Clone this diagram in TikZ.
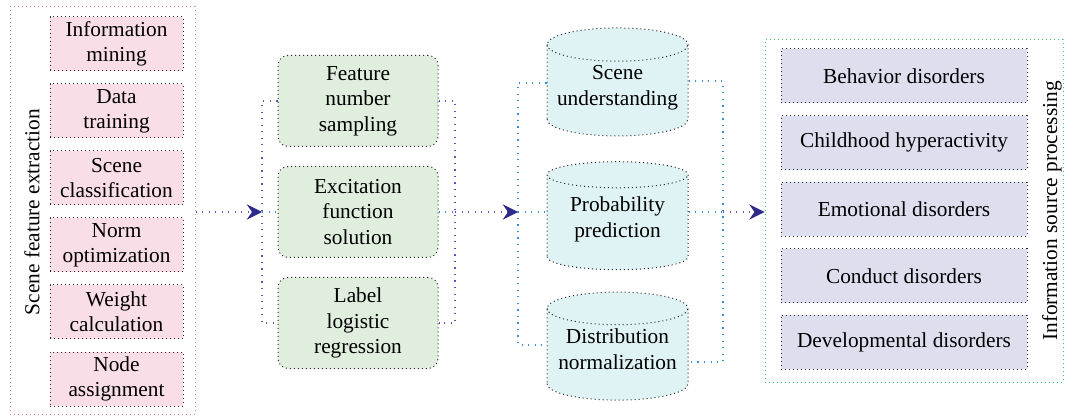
\documentclass[tikz,border=0pt]{standalone}
\usepackage{fontspec}
\setmainfont{Liberation Serif}
\usetikzlibrary{shapes.geometric,arrows.meta}
\definecolor{pinkfill}{HTML}{F9DEE8}
\definecolor{greenfill}{HTML}{DFEEDD}
\definecolor{cyanfill}{HTML}{DFF2F4}
\definecolor{lavfill}{HTML}{DEDFEE}
\definecolor{pinkline}{HTML}{E07AAA}
\definecolor{greenline}{HTML}{3CC86E}
\definecolor{purpline}{HTML}{5B57B8}
\definecolor{blueline}{HTML}{3B8AD6}
\definecolor{tipcol}{HTML}{2F2B8C}
% text of a cylinder, kept off its top
\newcommand{\cyltxt}[1]{\raisebox{-1.9pt}[0pt][0pt]{\begin{tabular}{@{}c@{}}#1\end{tabular}}}
\begin{document}
\begin{tikzpicture}[x=0.75pt,y=-0.75pt,
  font=\fontsize{16}{19}\selectfont,
  dots/.style={line width=0.75pt,dash pattern=on 0.75pt off 2.25pt},
  link/.style={line width=0.9pt,dash pattern=on 0.9pt off 4pt},
  arr/.style={link,draw=purpline,-{Stealth[length=11.5pt,width=11.5pt,inset=4pt,color=tipcol]}},
  pinkbox/.style={dots,draw=black!85,fill=pinkfill,align=center,inner sep=0pt,
    minimum width=99.75pt,minimum height=40.5pt},
  greenbox/.style={dots,draw=black!85,fill=greenfill,align=center,inner sep=0pt,
    rounded corners=7.5pt,minimum width=120pt,minimum height=68.25pt},
  cyl/.style={dots,draw=black!85,fill=cyanfill,inner sep=0pt,
    cylinder,shape border rotate=90,aspect=0.275,
    minimum width=105.75pt,minimum height=81pt},
  lavbox/.style={dots,draw=black!85,fill=lavfill,align=center,inner sep=0pt,
    minimum width=184.5pt,minimum height=40.5pt}]
\useasboundingbox (0,0) rectangle (1065,417);
% outer groups
\node[dots,draw=pinkline,minimum width=138.75pt,minimum height=305.25pt,inner sep=0pt] (sfe) at (102.5,210.5) {};
\node[dots,draw=greenline,minimum width=223.5pt,minimum height=256.5pt,inner sep=0pt] (isp) at (914,211) {};
\node[rotate=90] (sfel) at (32,212) {Scene feature extraction};
\node[rotate=90] (ispl) at (1052,211) {Information source processing};
% boxes
\foreach \txt [count=\i] in {{Information\\mining},{Data\\training},{Scene\\classification},
    {Norm\\optimization},{Weight\\calculation},{Node\\assignment}}
  \node[pinkbox] (sf\i) at (116.5,{44+67*(\i-1)}) {\txt};
\foreach \txt [count=\i] in {{Feature\\number\\sampling},{Excitation\\function\\solution},
    {Label\\logistic\\regression}}
  \node[greenbox] (cn\i) at (358,{101+111*(\i-1)}) {\txt};
\foreach \txt [count=\i] in {{Scene\\understanding},{Probability\\prediction},
    {Distribution\\normalization}}
  \node[cyl] (cy\i) at (617.5,{90.5+132*(\i-1)}) {\cyltxt{\txt}};
\foreach \txt [count=\i] in {Behavior disorders,Childhood hyperactivity,Emotional disorders,
    Conduct disorders,Developmental disorders}
  \node[lavbox] (ds\i) at (904,{76+66.6*(\i-1)}) {\txt};
% connectors
\coordinate (gl) at (262,212);
\coordinate (gr) at (455,212);
\coordinate (cl) at (518,212);
\coordinate (cr) at (723,212);
\draw[arr] (sfe.east |- gl) -- (gl);
\draw[link,draw=purpline] (cn1.west) -| (gl) |- (cn3.west);
\draw[link,draw=blueline] (gl) -- (cn2.west);
\draw[link,draw=purpline] (cn1.east) -| (gr) |- (cn3.east);
\draw[link,draw=blueline] (cn2.east) -- (gr);
\draw[arr] (gr) -- (cl);
\draw[link,draw=blueline] ([yshift=5.6pt]cy1.west) -| (cl) |- ([yshift=7.1pt]cy3.west);
\draw[link,draw=blueline] (cl) -- (cl -| cy2.west);
\draw[link,draw=blueline] ([yshift=7.1pt]cy1.east) -| (cr) |- ([yshift=-5.6pt]cy3.east);
\draw[link,draw=blueline] (cr -| cy2.east) -- (cr);
\draw[arr] (cr) -- (isp.west |- cr);
\end{tikzpicture}
\end{document}
